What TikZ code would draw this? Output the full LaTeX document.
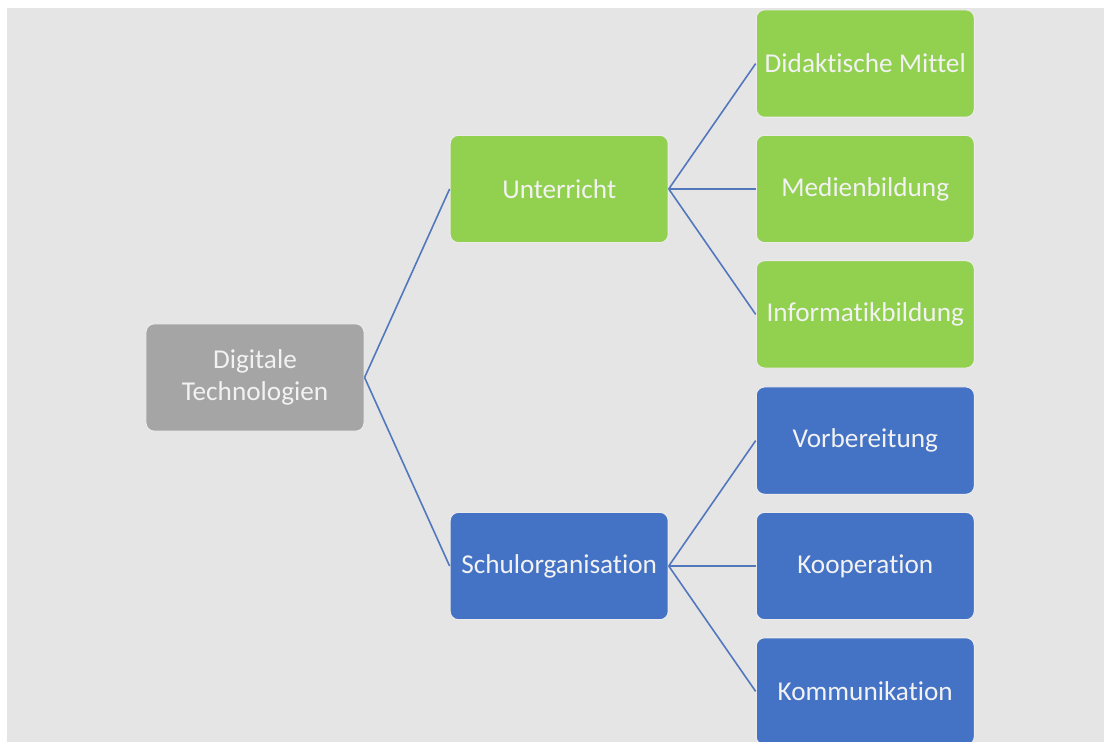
\documentclass[tikz,border=0pt]{standalone}
\usepackage{fontspec}
\setmainfont{Carlito}[Ligatures=NoCommon]
\usetikzlibrary{positioning, calc}

\definecolor{rootgray}{HTML}{A5A5A5}
\definecolor{leafgreen}{HTML}{92D050}
\definecolor{leafblue}{HTML}{4472C4}
\definecolor{linkblue}{HTML}{5277BD}
\definecolor{canvas}{HTML}{E5E5E5}

\begin{document}
\begin{tikzpicture}[node distance=0cm]
    \tikzstyle{topic} = [rectangle, rounded corners=0.22cm, minimum width=5.77cm, minimum height=2.84cm, text centered, align=center, draw=white!92!black, line width=0.8pt, text=white!95!black, font=\fontsize{20.5}{24}\selectfont]
    \tikzstyle{root} = [topic, fill=rootgray]
    \tikzstyle{green} = [topic, fill=leafgreen]
    \tikzstyle{blue} = [topic, fill=leafblue]
    \tikzstyle{link} = [linkblue, line width=1.2pt]

    % page and background
    \clip (-6.747,-9.644) rectangle (22.463,9.988);
    \fill[white] (-6.747,-9.644) rectangle (22.463,9.988);
    \fill[canvas] (-6.562,-9.644) rectangle (22.463,9.776);

    \node (digital) [root] at (0,0) {Digitale\\Technologien};
    \node (teaching) [green, above right=2.12cm and 2.25cm of digital.north east, anchor=south west] {Unterricht};
    \node (school) [blue, below right=2.12cm and 2.25cm of digital.south east, anchor=north west] {Schulorganisation};

    \node (media) [green, right=2.3cm of teaching] {Medienbildung};
    \node (didactic) [green, above=0.45cm of media] {Didaktische Mittel};
    \node (informatics) [green, below=0.45cm of media] {Informatikbildung};

    \node (coop) [blue, right=2.3cm of school] {Kooperation};
    \node (prep) [blue, above=0.45cm of coop] {Vorbereitung};
    \node (comm) [blue, below=0.45cm of coop] {Kommunikation};

    \draw [link] (digital.east) -- (teaching.west);
    \draw [link] (digital.east) -- (school.west);

    \foreach \leaf in {didactic, media, informatics}
        \draw [link] (teaching.east) -- (\leaf.west);
    \foreach \leaf in {prep, coop, comm}
        \draw [link] (school.east) -- (\leaf.west);
\end{tikzpicture}
\end{document}
